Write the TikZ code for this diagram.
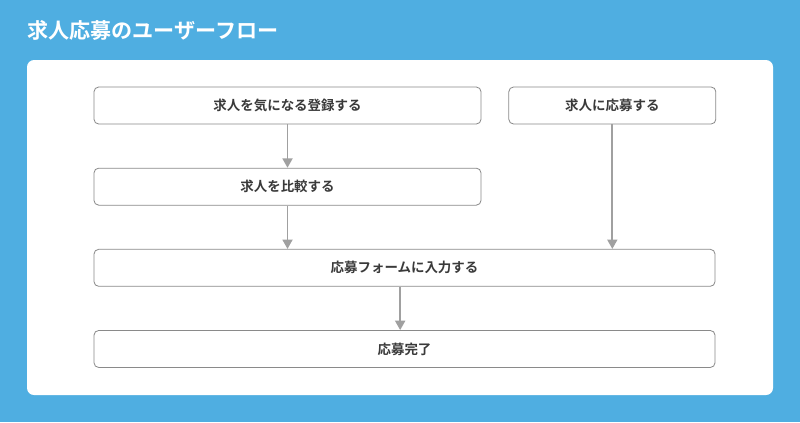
\documentclass[tikz,border=0pt]{standalone}
\usepackage{fontspec}
\setmainfont{Noto Sans CJK JP}
\newfontfamily\jpbold{Noto Sans CJK JP Bold}
\usetikzlibrary{arrows.meta, positioning, calc}
\definecolor{skyblue}{HTML}{4FAEE1}
\definecolor{edgegray}{HTML}{8A8A8A}
\definecolor{arrowgray}{HTML}{A0A0A0}
\definecolor{textdark}{HTML}{3A3A3A}
\tikzset{
  stepBox/.style = {rectangle, rounded corners=4pt, draw=edgegray, line width=0.7pt,
    fill=white, text=textdark, minimum height=1.11cm, inner sep=0pt,
    align=center, font=\jpbold\fontsize{11.5pt}{13pt}\selectfont},
  flowArrow/.style = {-{Triangle[length=0.28cm, width=0.3cm]}, line width=1.5pt, draw=arrowgray},
}
\begin{document}
\begin{tikzpicture}[node distance=1.3cm]

% background and panel
\fill[skyblue] (0,0) rectangle (24,-12.66);
\useasboundingbox (0,0) rectangle (24,-12.66);
\fill[white, rounded corners=6pt] (0.81,-1.8) rectangle (23.19,-11.85);
\node[anchor=west, text=white, font=\jpbold\fontsize{18pt}{20pt}\selectfont, inner sep=0pt] (title) at (0.81,-0.9) {求人応募のユーザーフロー};

% steps
\node[stepBox, minimum width=11.61cm] (s1) at (8.625,-3.165) {求人を気になる登録する};
\node[stepBox, minimum width=6.21cm, right=0.81cm of s1] (s2) {求人に応募する};
\node[stepBox, minimum width=11.61cm, below=of s1] (s3) {求人を比較する};
\node[stepBox, minimum width=18.63cm, below=of s3.south west, anchor=north west] (s4) {応募フォームに入力する};
\node[stepBox, minimum width=18.63cm, below=of s4] (s5) {応募完了};

\draw[flowArrow] (s1) -- (s3);
\draw[flowArrow] (s3.south) -- (s3.south |- s4.north);
\draw[flowArrow] (s2.south) -- (s2.south |- s4.north);
\draw[flowArrow] ([xshift=-0.13cm]s4.south) -- ([xshift=-0.13cm]s5.north);

\end{tikzpicture}
\end{document}
